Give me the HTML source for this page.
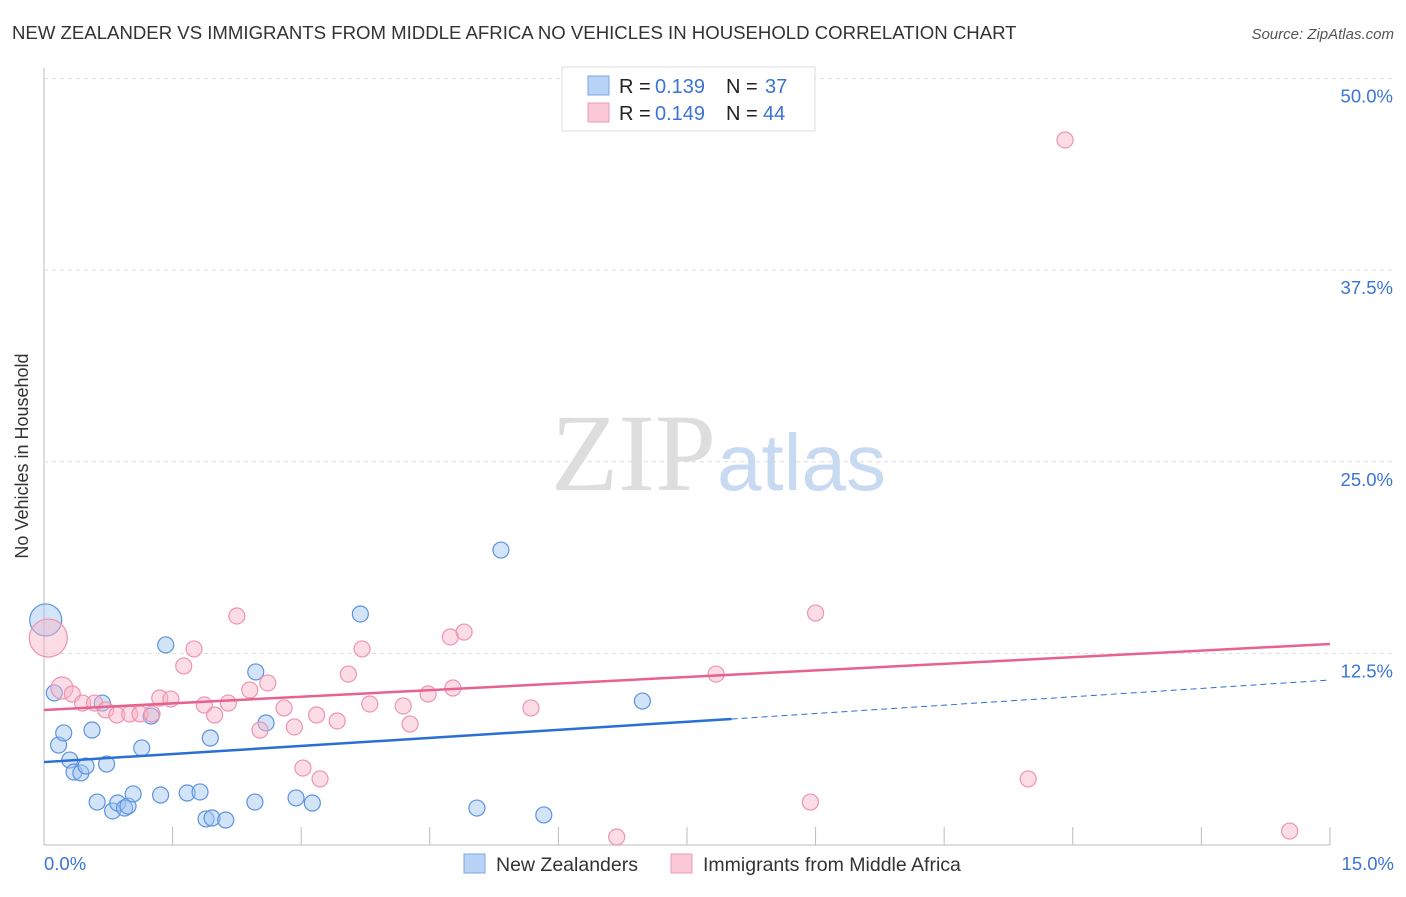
<!DOCTYPE html>
<html><head><meta charset="utf-8"><style>
body{margin:0;background:#fff;font-family:"Liberation Sans",sans-serif;}
svg text{font-family:"Liberation Sans",sans-serif;}
</style></head><body>
<svg id="chart" width="1406" height="892">
<text x="12" y="39" font-size="18.6" fill="#333">NEW ZEALANDER VS IMMIGRANTS FROM MIDDLE AFRICA NO VEHICLES IN HOUSEHOLD CORRELATION CHART</text>
<text x="1394" y="39" font-size="15" fill="#555" font-style="italic" text-anchor="end">Source: ZipAtlas.com</text>
<text x="28" y="456" font-size="18" fill="#333" text-anchor="middle" transform="rotate(-90 28 456)">No Vehicles in Household</text>
<g id="grid"></g>
<text x="716" y="490" font-size="110" fill="#ddd" text-anchor="end" style="font-family:'Liberation Serif',serif">ZIP</text>
<text x="717" y="490" font-size="80" fill="#c8daf2">atlas</text>
<g id="marks"></g>
<g>
<rect x="562" y="67" width="253" height="64" fill="#fff" stroke="#ddd"/>
<rect x="588" y="76" width="21" height="19" fill="#b8d3f5" stroke="#7aa7e6"/>
<text x="619" y="93" font-size="20" fill="#222">R = </text><text x="655" y="93" font-size="20" fill="#3a74d4">0.139</text>
<text x="726" y="93" font-size="20" fill="#222">N = </text><text x="765" y="93" font-size="20" fill="#3a74d4">37</text>
<rect x="588" y="103" width="21" height="19" fill="#fbc8d7" stroke="#ee9ab5"/>
<text x="619" y="120" font-size="20" fill="#222">R = </text><text x="655" y="120" font-size="20" fill="#3a74d4">0.149</text>
<text x="726" y="120" font-size="20" fill="#222">N = </text><text x="763" y="120" font-size="20" fill="#3a74d4">44</text>
</g>
<g>
<rect x="464" y="854" width="21" height="19" fill="#b8d3f5" stroke="#7aa7e6"/>
<text x="496" y="871" font-size="19.5" fill="#333">New Zealanders</text>
<rect x="671" y="854" width="21" height="19" fill="#fbc8d7" stroke="#ee9ab5"/>
<text x="703" y="871" font-size="19.5" fill="#333">Immigrants from Middle Africa</text>
</g>
</svg>
<script>
const yTicks=[12.5,25,37.5,50];
const yTickLabels=["12.5%","25.0%","37.5%","50.0%"];
const xTicks=[1.5,3,4.5,6,7.5,9,10.5,12,13.5,15];
const blueX=[0.02,0.12,0.17,0.23,0.56,0.30,0.35,0.43,0.49,0.73,0.68,1.14,1.25,1.42,0.62,0.80,0.86,0.94,0.98,1.04,1.36,1.67,1.82,1.89,1.96,2.12,1.94,2.47,2.59,2.46,2.94,3.13,3.69,5.33,5.05,5.83,6.98];
const blueY=[14.68,9.92,6.52,7.31,7.50,5.54,4.76,4.70,5.15,5.28,9.26,6.33,8.41,13.05,2.80,2.22,2.74,2.41,2.54,3.33,3.26,3.39,3.46,1.70,1.76,1.63,6.98,11.29,7.96,2.80,3.07,2.74,15.07,19.24,2.41,1.96,9.39];
const pinkX=[0.05,0.21,0.33,0.45,0.59,0.72,0.85,1.00,1.12,1.26,1.35,1.48,1.63,1.75,1.87,1.99,2.15,2.25,2.40,2.52,2.61,2.80,2.92,3.18,3.42,3.55,3.71,3.80,4.19,4.27,4.48,4.74,4.77,4.90,5.68,6.68,7.84,8.94,9.00,11.48,11.91,14.53,3.02,3.22];
const pinkY=[13.5,10.24,9.85,9.26,9.26,8.81,8.48,8.55,8.55,8.55,9.59,9.52,11.68,12.79,9.13,8.48,9.26,14.94,10.11,7.50,10.57,8.94,7.70,8.48,8.09,11.15,12.79,9.20,9.07,7.89,9.85,13.57,10.24,13.89,8.94,0.52,11.15,2.80,15.13,4.31,45.99,0.91,5.02,4.31];
const blueTrend=[[0,5.41],[8.02,8.22],[15,10.76]];
const pinkTrend=[[0,8.81],[15,13.11]];
const X=v=>44+v*85.73, Y=v=>845-v*15.33;
const NS="http://www.w3.org/2000/svg";
function mk(t,a,p){const e=document.createElementNS(NS,t);for(const k in a)e.setAttribute(k,a[k]);p.appendChild(e);return e;}
const g=document.getElementById('grid'), m=document.getElementById('marks');
let ax=mk('line',{x1:44,y1:68,x2:44,y2:845,stroke:'#bbb'},g);


let bx=mk('line',{x1:44,y1:845,x2:1330,y2:845,stroke:'#bbb'},g);


yTicks.forEach((t,i)=>{
 const l=mk('line',{x1:44,x2:1394,y1:Y(t),y2:Y(t),stroke:'#ddd','stroke-dasharray':'4,4'},g);
 
 
 const tx=mk('text',{x:1393,y:Y(t)+24,'font-size':18.5,fill:'#3a74d4','text-anchor':'end'},g);tx.textContent=yTickLabels[i];
 
 
});
xTicks.forEach(t=>{
 const l=mk('line',{x1:X(t),x2:X(t),y1:827,y2:845,stroke:'#bbb'},g);
 
 
});
let t0=mk('text',{x:44,y:870,'font-size':18.5,fill:'#3a74d4'},g);t0.textContent='0.0%';


let t1=mk('text',{x:1394,y:870,'font-size':18.5,fill:'#3a74d4','text-anchor':'end'},g);t1.textContent='15.0%';


blueX.forEach((x,i)=>{
 const c=mk('circle',{cx:X(x),cy:Y(blueY[i]),r:i==0?16:8,fill:'rgba(160,195,240,0.45)',stroke:'#5b93df','stroke-width':1.2},m);
 
 
});
pinkX.forEach((x,i)=>{
 const c=mk('circle',{cx:X(x),cy:Y(pinkY[i]),r:i==0?19:(i==1?11:8),fill:'rgba(248,180,200,0.45)',stroke:'#ee93b0','stroke-width':1.2},m);
 
 
});
let bl=mk('line',{x1:X(blueTrend[0][0]),y1:Y(blueTrend[0][1]),x2:X(blueTrend[1][0]),y2:Y(blueTrend[1][1]),stroke:'#2a6fd6','stroke-width':2.5},m);


let bd=mk('line',{x1:X(blueTrend[1][0]),y1:Y(blueTrend[1][1]),x2:X(blueTrend[2][0]),y2:Y(blueTrend[2][1]),stroke:'#2a6fd6','stroke-width':1,'stroke-dasharray':'6,4'},m);


let pl=mk('line',{x1:X(pinkTrend[0][0]),y1:Y(pinkTrend[0][1]),x2:X(pinkTrend[1][0]),y2:Y(pinkTrend[1][1]),stroke:'#e8628e','stroke-width':2.5},m);


</script>
</body></html>
